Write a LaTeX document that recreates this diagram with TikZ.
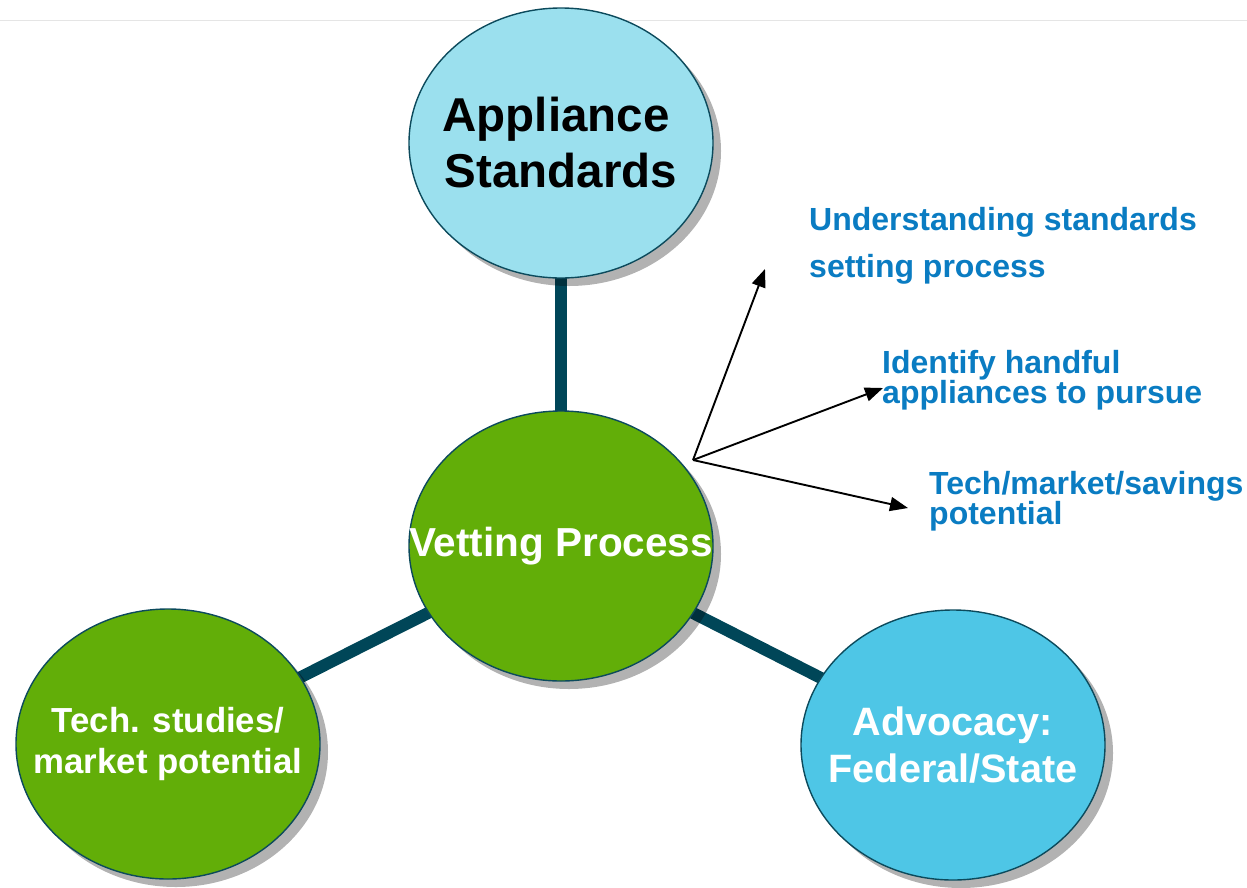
\documentclass[tikz,border=0pt]{standalone}
\usepackage{fontspec}
\setmainfont{Liberation Sans}
\usetikzlibrary{shapes.geometric,shadows,arrows.meta,backgrounds}

\definecolor{stdblue}{HTML}{9BE0EE}
\definecolor{advblue}{HTML}{4EC6E6}
\definecolor{vetgreen}{HTML}{62AE08}
\definecolor{rimteal}{HTML}{0C4A5C}
\definecolor{linkteal}{HTML}{004658}
\definecolor{notetext}{HTML}{0A7CC2}

\begin{document}
\begin{tikzpicture}[x=1pt,y=-1pt,
  bubble/.style={ellipse,draw=rimteal,line width=1.4pt,minimum width=304pt,minimum height=270pt,
    inner sep=0pt,
    drop shadow={shadow xshift=8pt,shadow yshift=-8pt,fill=black,opacity=0.3}},
  bubbletext/.style={align=center,inner sep=0pt},
  link/.style={linkteal,line width=12pt},
  pointer/.style={-{Triangle[length=18pt,width=14pt]},line width=1.9pt},
  note/.style={text=notetext,align=left,inner sep=0pt,anchor=base west}]

  \useasboundingbox (0,0) rectangle (1247,887);

  % Draw faint top rule
  \coordinate (R0) at (0,20.5);
  \coordinate (R1) at (1247,20.5);
  \draw [black!10,line width=1pt] (R0) -- (R1);

  % Draw circles
  \node [bubble,fill=stdblue,
    label={[bubbletext,font=\bfseries\fontsize{47.5}{56}\selectfont]center:{Appliance\hspace*{10pt}\\Standards}}] (std) at (561,143) {};
  \node [bubble,fill=vetgreen,
    label={[bubbletext,text=white,font=\bfseries\fontsize{40.5}{47}\selectfont]center:{Vetting Process}}] (vet) at (561,546) {};
  \node [bubble,fill=vetgreen,
    label={[bubbletext,text=white,font=\bfseries\fontsize{34.8}{41}\selectfont]center:{Tech. studies/\\market potential}}] (tech) at (168,744) {};
  \node [bubble,fill=advblue,
    label={[bubbletext,text=white,font=\bfseries\fontsize{39.6}{47}\selectfont]center:{Advocacy:\\Federal/State}}] (adv) at (953,745) {};

  % Draw links behind circles
  \begin{scope}[on background layer]
    \draw [link] (std.center) -- (vet.center);
    \draw [link] (vet.center) -- (tech.center);
    \draw [link] (vet.center) -- (adv.center);
  \end{scope}

  % Draw pointers
  \coordinate (fan) at (693,460);
  \coordinate (tipA) at (765,269);
  \coordinate (tipB) at (883,388);
  \coordinate (tipC) at (908,508);
  \draw [pointer] (fan) -- (tipA);
  \draw [pointer] (fan) -- (tipB);
  \draw [pointer] (fan) -- (tipC);

  % Draw notes
  \node [note,font=\bfseries\fontsize{32}{47}\selectfont] (noteA) at (809,277) {Understanding standards\\setting process};
  \node [note,font=\bfseries\fontsize{32}{30}\selectfont] (noteB) at (882,403) {Identify handful\\appliances to pursue};
  \node [note,font=\bfseries\fontsize{32}{30}\selectfont] (noteC) at (929,524) {Tech/market/savings\\potential};

\end{tikzpicture}
\end{document}
